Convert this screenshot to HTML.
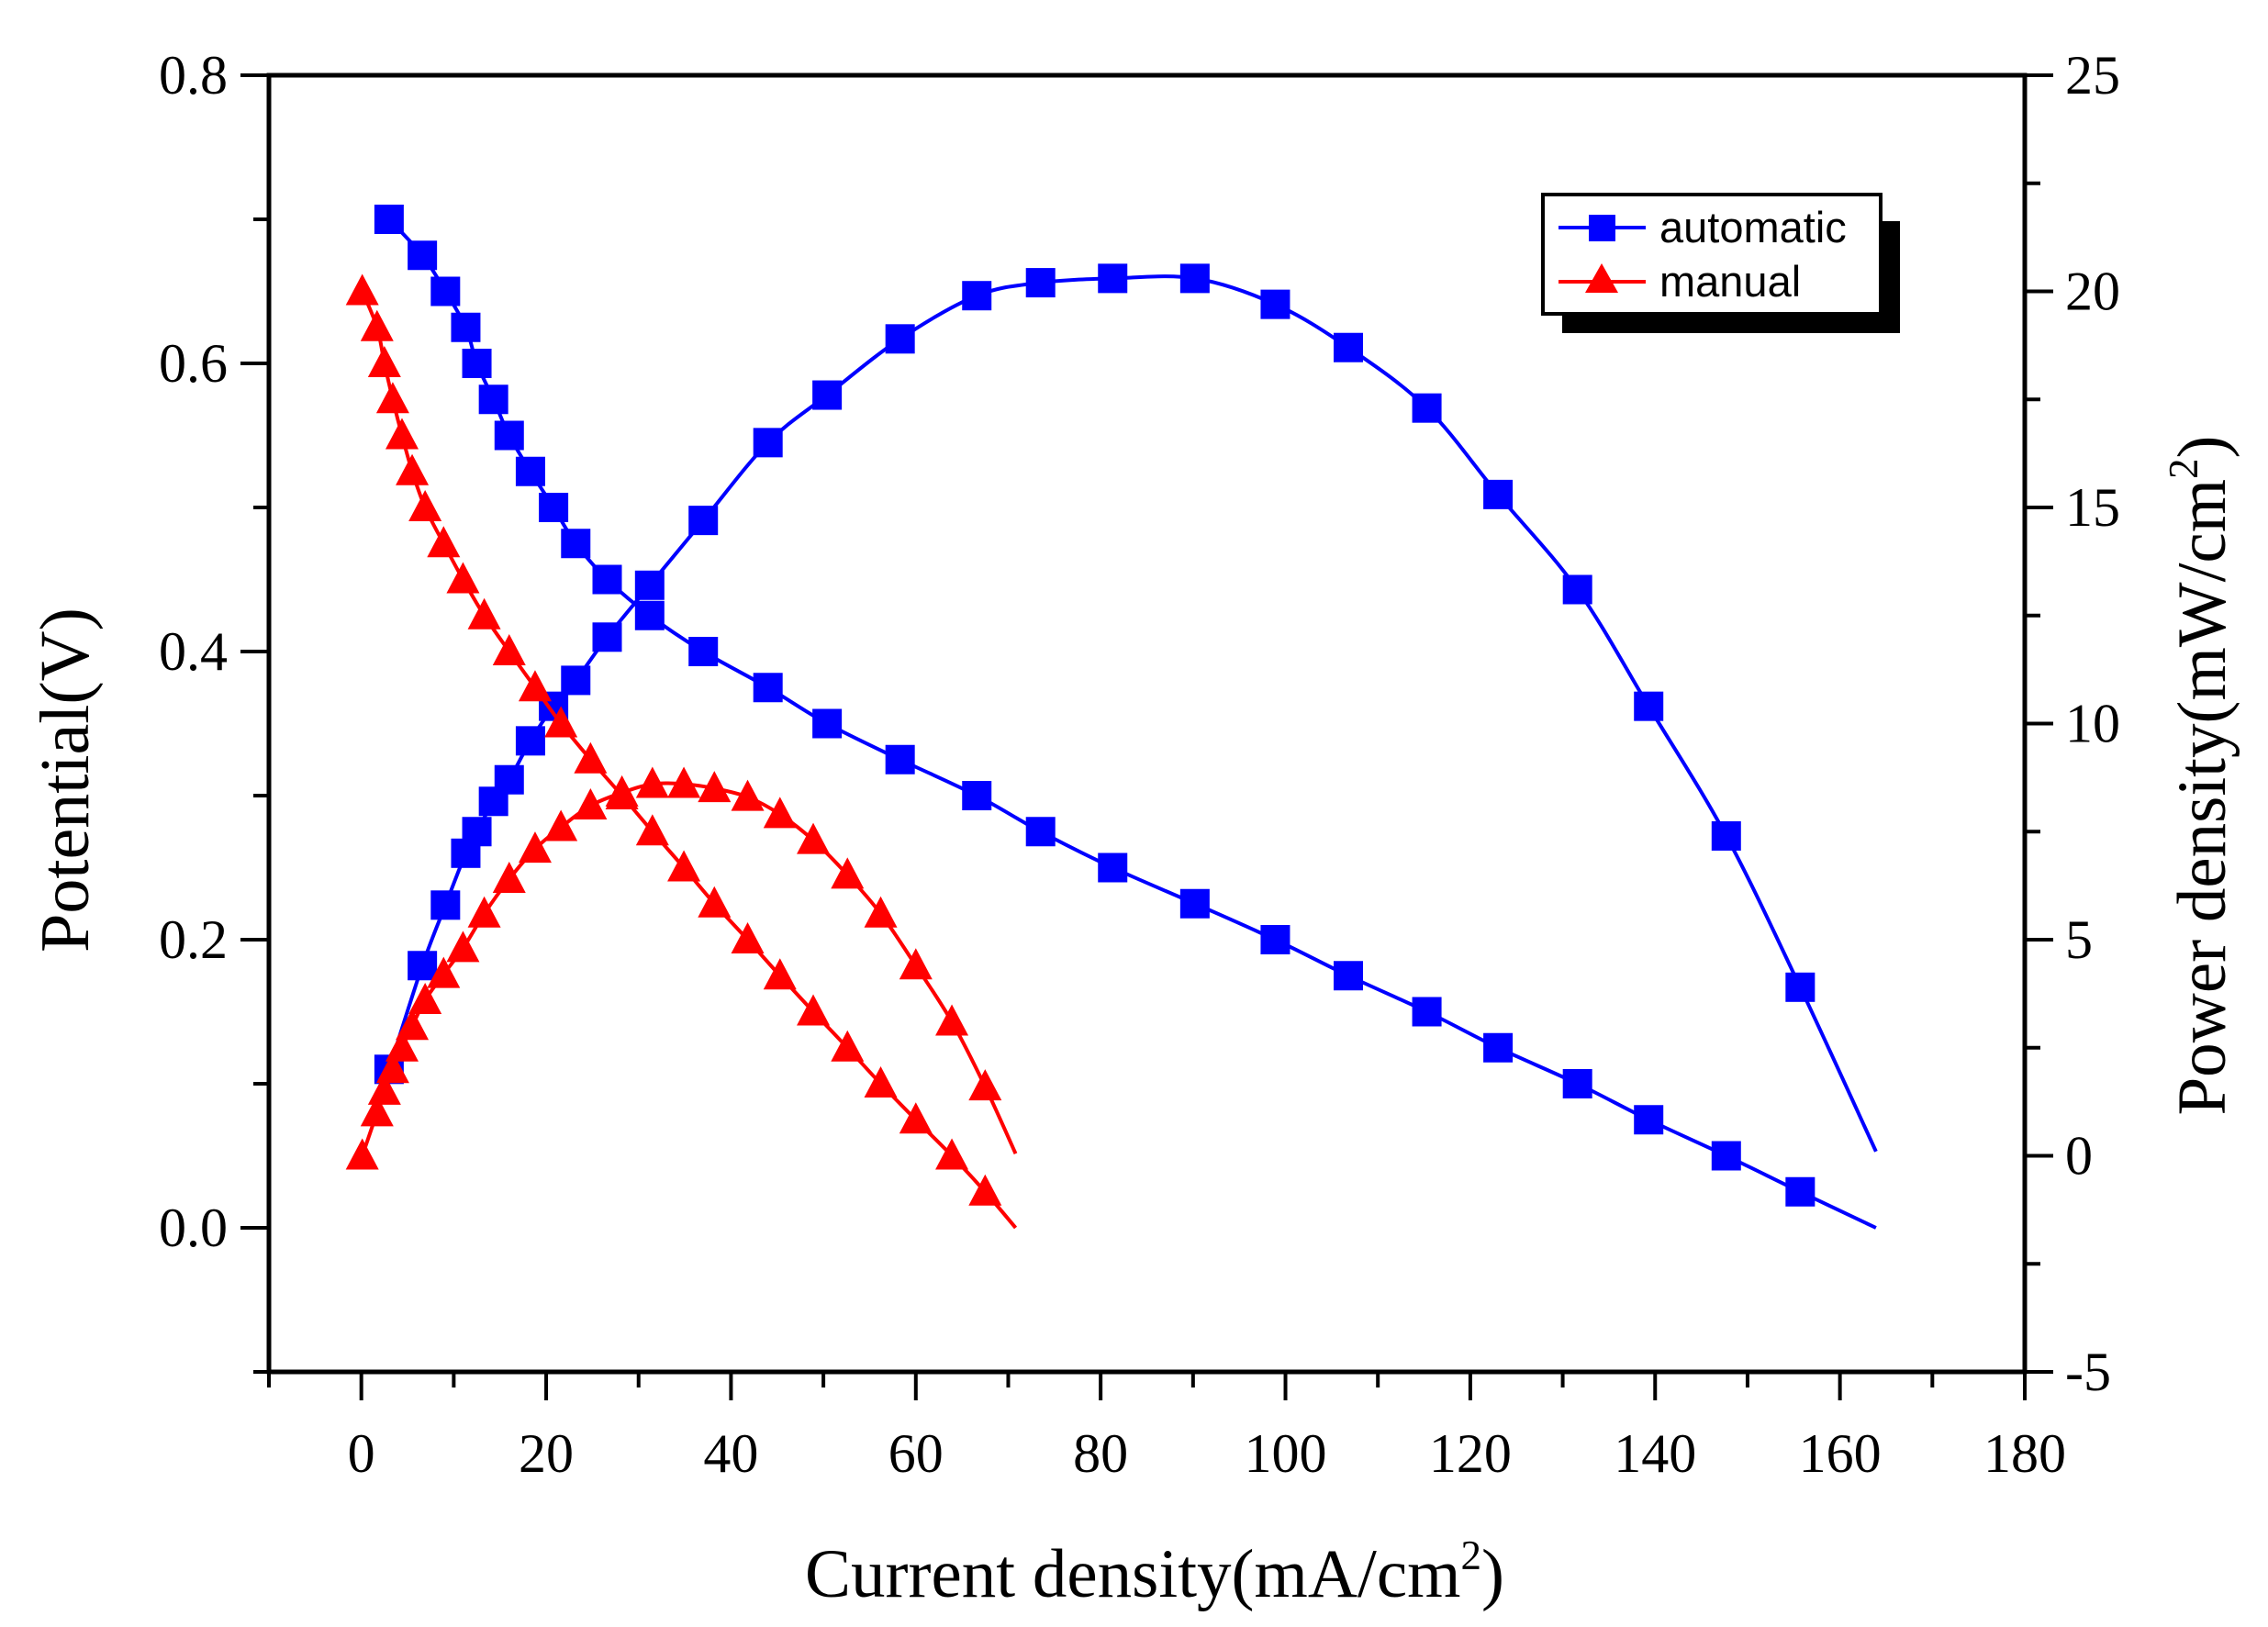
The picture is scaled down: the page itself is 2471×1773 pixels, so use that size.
<!DOCTYPE html>
<html><head><meta charset="utf-8"><style>
html,body{margin:0;padding:0;background:#fff;}
svg{display:block;}
</style></head><body>
<svg id="chart" width="2471" height="1773" viewBox="0 0 2471 1773" xmlns="http://www.w3.org/2000/svg">
<rect x="0" y="0" width="2471" height="1773" fill="#fff"/>
<g id="axes"></g>
<g id="series"></g>
<g id="legend">
  <rect x="1702" y="241" width="368" height="122" fill="#000"/>
  <rect x="1681" y="212" width="368" height="130" fill="#fff" stroke="#000" stroke-width="4"/>
  <g>
    <line x1="1698" y1="248" x2="1793" y2="248" stroke="#00f" stroke-width="4"/>
    <rect x="1731" y="234" width="29" height="29" fill="#00f"/>
    <text x="1808" y="264" font-family="Liberation Sans, sans-serif" font-size="47">automatic</text>
  </g>
  <g>
    <line x1="1698" y1="307" x2="1793" y2="307" stroke="#f00" stroke-width="4"/>
    <polygon points="1745,287 1727,319 1763,319" fill="#f00"/>
    <text x="1808" y="323" font-family="Liberation Sans, sans-serif" font-size="47">manual</text>
  </g>
</g>
</svg>
<script>
// ---- data ----
const autoCurrent = [3.0,6.6,9.1,11.3,12.5,14.3,16.0,18.3,20.8,23.2,26.6,31.2,37.0,44.0,50.4,58.3,66.6,73.5,81.3,90.2,98.9,106.8,115.3,123.0,131.6,139.3,147.7,155.7];
const autoPotential = [0.70,0.675,0.65,0.625,0.60,0.575,0.55,0.525,0.50,0.475,0.45,0.425,0.40,0.375,0.35,0.325,0.30,0.275,0.25,0.225,0.20,0.175,0.15,0.125,0.10,0.075,0.05,0.025];
const autoPower = [2.0,4.4,5.8,7.0,7.5,8.2,8.7,9.6,10.4,11.0,12.0,13.2,14.7,16.5,17.6,18.9,19.9,20.2,20.3,20.3,19.7,18.7,17.3,15.3,13.1,10.4,7.4,3.9];
const autoEndCurrent = 163.9;
const autoEndPotential = 0.0;
const autoEndPower = 0.1;

const manCurrent = [0.1,1.7,2.5,3.4,4.4,5.5,6.9,8.9,11.0,13.3,16.0,18.8,21.6,24.8,28.2,31.5,34.9,38.2,41.8,45.3,48.9,52.6,56.2,60.0,63.9,67.5];
const manPotential = [0.65,0.625,0.60,0.575,0.55,0.525,0.50,0.475,0.45,0.425,0.40,0.375,0.35,0.325,0.30,0.275,0.25,0.225,0.20,0.175,0.15,0.125,0.10,0.075,0.05,0.025];
const manPower = [0.0,1.0,1.5,2.0,2.5,3.0,3.6,4.2,4.8,5.6,6.4,7.1,7.6,8.1,8.4,8.6,8.6,8.5,8.3,7.9,7.3,6.5,5.6,4.4,3.1,1.6];
const manEndCurrent = 70.8;
const manEndPotential = 0.0;
const manEndPower = 0.05;

const xTicks = [0,20,40,60,80,100,120,140,160,180];
const yLeftTicks = ["0.0","0.2","0.4","0.6","0.8"];
const yRightTicks = [-5,0,5,10,15,20,25];

// ---- scales ----
const L=293,R=2206,T=82,B=1495;
const xMin=-10,xMax=180,yMin=-0.1,yMax=0.8,y2Min=-5,y2Max=25;
const sx=v=>L+(v-xMin)/(xMax-xMin)*(R-L);
const sy=v=>B-(v-yMin)/(yMax-yMin)*(B-T);
const sy2=v=>B-(v-y2Min)/(y2Max-y2Min)*(B-T);
const NS="http://www.w3.org/2000/svg";
function mk(tag,attrs,parent){const e=document.createElementNS(NS,tag);for(const k in attrs)e.setAttribute(k,attrs[k]);parent.appendChild(e);return e;}
const axes=document.getElementById('axes'), series=document.getElementById('series');
const serif="Liberation Serif, serif";

let e;
e=mk('line',{x1:L,y1:B,x2:R,y2:B,stroke:'#000','stroke-width':5,'stroke-linecap':'square'},axes);


e=mk('line',{x1:L,y1:T,x2:R,y2:T,stroke:'#000','stroke-width':5,'stroke-linecap':'square'},axes);


e=mk('line',{x1:L,y1:T,x2:L,y2:B,stroke:'#000','stroke-width':5,'stroke-linecap':'square'},axes);


e=mk('line',{x1:R,y1:T,x2:R,y2:B,stroke:'#000','stroke-width':5,'stroke-linecap':'square'},axes);



for(let v=-10;v<=180;v+=10){
  const major=v%20===0;
  e=mk('line',{x1:sx(v),y1:B,x2:sx(v),y2:B+(major?31:17),stroke:'#000','stroke-width':4},axes);
  
  
}
xTicks.forEach(v=>{
  e=mk('text',{x:sx(v),y:1604,'text-anchor':'middle','font-family':serif,'font-size':60},axes);
  e.textContent=String(v);
  
  
});
for(let i=-1;i<=8;i++){
  const v=i/10, major=i>=0&&i%2===0;
  e=mk('line',{x1:L,y1:sy(v),x2:L-(major?31:17),y2:sy(v),stroke:'#000','stroke-width':4},axes);
  
  
}
yLeftTicks.forEach(s=>{
  e=mk('text',{x:248,y:sy(parseFloat(s))+20,'text-anchor':'end','font-family':serif,'font-size':60},axes);
  e.textContent=s;
  
  
});
for(let v=-5;v<=25;v+=2.5){
  const major=Number.isInteger(v/5);
  e=mk('line',{x1:R,y1:sy2(v),x2:R+(major?31:17),y2:sy2(v),stroke:'#000','stroke-width':4},axes);
  
  
}
yRightTicks.forEach(v=>{
  e=mk('text',{x:2250,y:sy2(v)+20,'text-anchor':'start','font-family':serif,'font-size':60},axes);
  e.textContent=String(v);
  
  
});
e=mk('text',{x:1258,y:1740,'text-anchor':'middle','font-family':serif,'font-size':75},axes);
e.innerHTML='Current density(mA/cm<tspan dy="-30" font-size="45">2</tspan><tspan dy="30">)</tspan>';


e=mk('text',{x:0,y:0,'text-anchor':'middle','font-family':serif,'font-size':76,transform:'translate(96,850) rotate(-90)'},axes);
e.textContent='Potential(V)';


e=mk('text',{x:0,y:0,'text-anchor':'middle','font-family':serif,'font-size':75,transform:'translate(2424,845) rotate(-90)'},axes);
e.innerHTML='Power density(mW/cm<tspan dy="-30" font-size="45">2</tspan><tspan dy="30">)</tspan>';



function smooth(pts){
  let d='M'+pts[0][0]+','+pts[0][1];
  for(let i=0;i<pts.length-1;i++){
    const p0=pts[Math.max(0,i-1)],p1=pts[i],p2=pts[i+1],p3=pts[Math.min(pts.length-1,i+2)];
    const c1=[p1[0]+(p2[0]-p0[0])/6,p1[1]+(p2[1]-p0[1])/6];
    const c2=[p2[0]-(p3[0]-p1[0])/6,p2[1]-(p3[1]-p1[1])/6];
    d+=' C'+c1[0]+','+c1[1]+' '+c2[0]+','+c2[1]+' '+p2[0]+','+p2[1];
  }
  return d;
}
function drawSeries(xs,ys,endX,endY,scaleY,color,marker,name){
  const pts=xs.map((x,i)=>[sx(x),scaleY(ys[i])]);
  pts.push([sx(endX),scaleY(endY)]);
  let p=mk('path',{d:smooth(pts),fill:'none',stroke:color,'stroke-width':4},series);
  
  
  xs.forEach((x,i)=>{
    const cx=sx(x),cy=scaleY(ys[i]);
    let m;
    if(marker==='square') m=mk('rect',{x:cx-16,y:cy-16,width:32,height:32,fill:color},series);
    else m=mk('polygon',{points:`${cx},${cy-19} ${cx-18},${cy+15} ${cx+18},${cy+15}`,fill:color},series);
    
    
  });
}
drawSeries(autoCurrent,autoPotential,autoEndCurrent,autoEndPotential,sy,'#00f','square','automatic-potential');
drawSeries(autoCurrent,autoPower,autoEndCurrent,autoEndPower,sy2,'#00f','square','automatic-power');
drawSeries(manCurrent,manPotential,manEndCurrent,manEndPotential,sy,'#f00','triangle','manual-potential');
drawSeries(manCurrent,manPower,manEndCurrent,manEndPower,sy2,'#f00','triangle','manual-power');
</script>
</body></html>
